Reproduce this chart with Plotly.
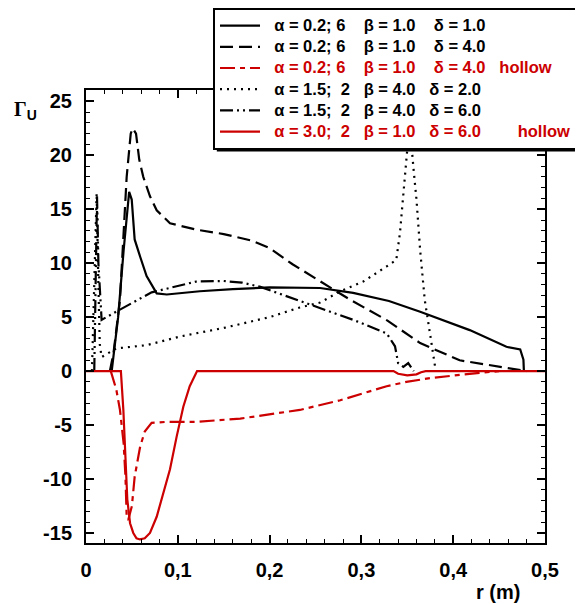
import plotly.graph_objects as go

# ---------------- data ----------------
r_s1 = [0.028, 0.035, 0.041, 0.047, 0.0498, 0.053, 0.059, 0.066, 0.077, 0.088, 0.124,
        0.16, 0.2, 0.255, 0.291, 0.33, 0.364, 0.418, 0.458, 0.473, 0.4765, 0.477]
g_s1 = [0.0, 5.0, 11.2, 16.6, 15.9, 12.2, 10.6, 8.8, 7.2, 7.1, 7.4,
        7.6, 7.75, 7.7, 7.25, 6.5, 5.5, 3.8, 2.25, 2.0, 1.05, 0.0]

r_s2 = [0.026, 0.030, 0.037, 0.041, 0.0443, 0.0487, 0.0509, 0.0545, 0.058, 0.0624, 0.0697,
        0.077, 0.0915, 0.1206, 0.15, 0.18, 0.2, 0.225, 0.255, 0.288, 0.328, 0.364,
        0.407, 0.451, 0.48]
g_s2 = [0.0, 1.7, 6.6, 12.8, 18.0, 22.0, 22.5, 22.0, 19.6, 18.0, 16.2,
        14.9, 13.7, 13.1, 12.7, 12.1, 11.4, 9.9, 8.3, 6.6, 4.7, 2.6,
        1.0, 0.4, 0.0]

r_s3 = [0.027, 0.033, 0.037, 0.041, 0.043, 0.0443, 0.046, 0.050, 0.053, 0.059, 0.064,
        0.0715, 0.088, 0.121, 0.168, 0.233, 0.277, 0.3275, 0.349, 0.375, 0.407, 0.45]
g_s3 = [0.0, -1.7, -3.6, -6.7, -9.8, -13.5, -13.8, -12.5, -9.8, -7.0, -5.6,
        -4.8, -4.7, -4.7, -4.4, -3.6, -2.7, -1.4, -1.0, -0.65, -0.35, 0.0]

r_s4 = [0.0065, 0.009, 0.0116, 0.0135, 0.015, 0.017, 0.033, 0.066, 0.102, 0.12, 0.15,
        0.18, 0.2, 0.233, 0.255, 0.277, 0.302, 0.3275, 0.338, 0.342, 0.3457, 0.349,
        0.3525, 0.3566, 0.360, 0.364, 0.369, 0.3747, 0.380, 0.381]
g_s4 = [0.0, 8.0, 16.5, 8.0, 2.5, 1.3, 2.1, 2.4, 3.2, 3.5, 4.0,
        4.6, 5.0, 5.9, 6.35, 7.4, 8.3, 9.7, 10.3, 12.8, 16.5, 19.6,
        23.0, 18.9, 15.9, 11.2, 6.6, 3.5, 0.75, 0.0]

r_s5 = [0.009, 0.0105, 0.012, 0.0135, 0.017, 0.037, 0.0715, 0.12, 0.15, 0.17, 0.19,
        0.21, 0.233, 0.255, 0.291, 0.3275, 0.3366, 0.34, 0.3457, 0.351, 0.355, 0.357]
g_s5 = [0.0, 8.0, 16.2, 10.0, 4.75, 5.7, 7.3, 8.3, 8.35, 8.2, 7.8,
        7.2, 6.5, 5.8, 4.75, 3.5, 2.3, 0.75, 0.4, 0.75, 0.2, 0.0]

r_s6 = [0.0, 0.038, 0.0407, 0.043, 0.045, 0.048, 0.0515, 0.055, 0.0588, 0.064, 0.0697,
        0.077, 0.0842, 0.0915, 0.0988, 0.106, 0.113, 0.1198, 0.121, 0.335, 0.34,
        0.35, 0.36, 0.365, 0.37, 0.5]
g_s6 = [0.0, 0.0, -3.6, -8.2, -11.9, -14.1, -15.0, -15.5, -15.6, -15.5, -15.0,
        -13.5, -11.3, -9.1, -6.05, -3.3, -1.4, -0.2, 0.0, 0.0, -0.25,
        -0.4, -0.3, -0.1, 0.0, 0.0]

NB = "\u00a0"
series_names = [
    f"{NB*2}α = 0.2; 6{NB*4}β = 1.0{NB*4}δ = 1.0",
    f"{NB*2}α = 0.2; 6{NB*4}β = 1.0{NB*4}δ = 4.0",
    f"{NB*2}α = 0.2; 6{NB*4}β = 1.0{NB*4}δ = 4.0{NB*3}hollow",
    f"{NB*2}α = 1.5;{NB*2}2{NB*3}β = 4.0{NB*3}δ = 2.0",
    f"{NB*2}α = 1.5;{NB*2}2{NB*3}β = 4.0{NB*3}δ = 6.0",
    f"{NB*2}α = 3.0;{NB*2}2{NB*3}β = 1.0{NB*3}δ = 6.0{NB*8}hollow",
]

x_tickvals = [0, 0.1, 0.2, 0.3, 0.4, 0.5]
x_ticktext = ["0", "0,1", "0,2", "0,3", "0,4", "0,5"]
y_tickvals = [-15, -10, -5, 0, 5, 10, 15, 20, 25]
y_ticktext = ["-15", "-10", "-5", "0", "5", "10", "15", "20", "25"]

# ---------------- styling ----------------
BLACK = "#000000"
RED = "#cc0000"
styles = [
    dict(color=BLACK, dash="solid"),
    dict(color=BLACK, dash="13px,6px"),
    dict(color=RED, dash="15px,5px,5px,5px"),
    dict(color=BLACK, dash="2px,5px"),
    dict(color=BLACK, dash="13px,4px,2px,4px,2px,4px"),
    dict(color=RED, dash="solid"),
]
xs = [r_s1, r_s2, r_s3, r_s4, r_s5, r_s6]
ys = [g_s1, g_s2, g_s3, g_s4, g_s5, g_s6]

fig = go.Figure()
for x, y, name, st in zip(xs, ys, series_names, styles):
    label = f"<span style='font-size:16.5px;color:{st['color']}'>{name}</span>"
    fig.add_trace(go.Scatter(
        x=x, y=y, mode="lines", name=label,
        line=dict(color=st["color"], dash=st["dash"], width=2.2),
    ))

axis_common = dict(
    showline=True, linecolor="black", linewidth=2, mirror="ticks",
    ticks="inside", ticklen=8, tickwidth=1.5, tickcolor="black",
    showgrid=False, zeroline=False, automargin=False,
    tickfont=dict(family="Liberation Sans, Arial, sans-serif", size=20, color="black", weight="bold"),
)

fig.update_xaxes(
    range=[0, 0.5], tickvals=x_tickvals, ticktext=x_ticktext,
    minor=dict(dtick=0.02, ticks="inside", ticklen=4, tickcolor="black", tickwidth=1),
    ticklabelstandoff=8,
    **axis_common,
)
fig.update_yaxes(
    range=[-15.93, 26.05], tickvals=y_tickvals, ticktext=y_ticktext,
    minor=dict(dtick=1, ticks="inside", ticklen=4, tickcolor="black", tickwidth=1),
    ticklabelstandoff=8,
    **axis_common,
)

# page body has an 8px margin: figure is 575x596 placed at (8, 8)
fig.update_layout(
    width=575, height=596,
    margin=dict(l=78, r=38, t=82, b=61, autoexpand=False),
    plot_bgcolor="white", paper_bgcolor="white",
    showlegend=True,
    legend=dict(
        x=0.2767, y=1.181, xanchor="left", yanchor="top",
        bgcolor="white", bordercolor="black", borderwidth=2,
        font=dict(family="Liberation Sans, Arial, sans-serif", size=14, color="black", weight="bold"),
        itemwidth=40, tracegroupgap=0,
    ),
    shapes=[
        # drop shadow behind the legend box (thick right/bottom edge)
        dict(type="rect", xref="paper", yref="paper",
             x0=0.285, x1=1.10, y0=0.864, y1=1.17,
             fillcolor="black", line=dict(width=0), layer="above"),
    ],
    annotations=[
        dict(text="<span style='font-family:Liberation Serif'>Γ</span><sub>U</sub>",
             xref="paper", yref="paper", x=-0.161, y=0.955, xanchor="left", yanchor="middle",
             showarrow=False, font=dict(family="Liberation Sans, Arial", size=20, color="black", weight="bold")),
        dict(text="r (m)", xref="paper", yref="paper", x=0.95, y=0, xanchor="right", yanchor="middle",
             yshift=-49, showarrow=False,
             font=dict(family="Liberation Sans, Arial", size=20, color="black", weight="bold")),
    ],
)

fig.write_html("out.html")
